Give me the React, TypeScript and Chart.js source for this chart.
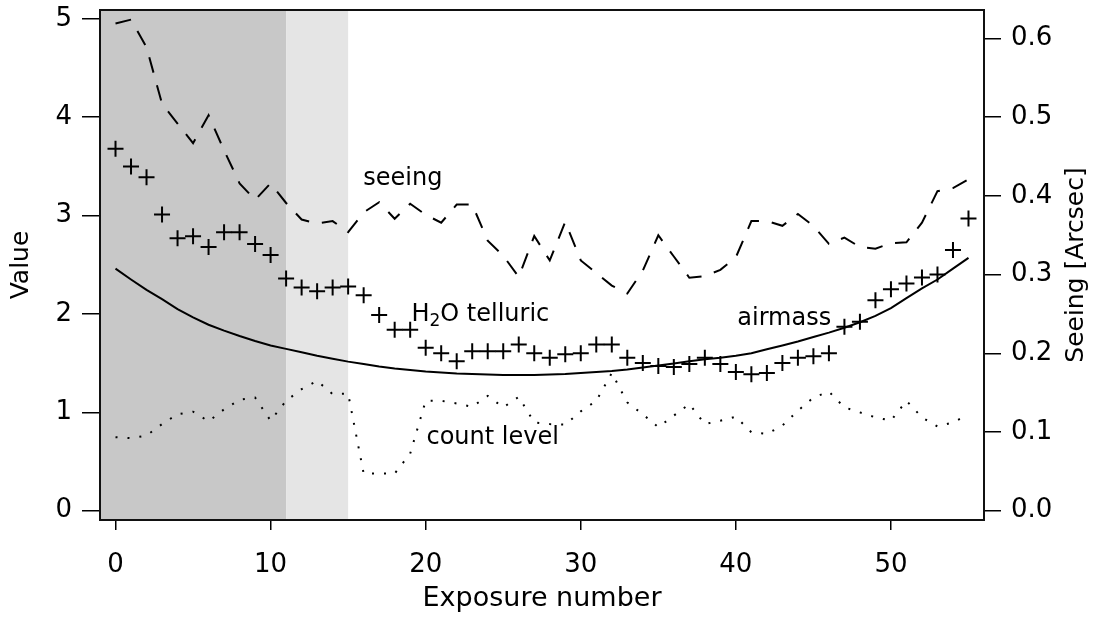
import React, { useEffect, useRef } from 'react';
import { Chart, registerables } from 'chart.js';

Chart.register(...registerables);

// ---------- data ----------
const exposures = [
  0, 1, 2, 3, 4, 5, 6, 7, 8, 9, 10, 11, 12, 13, 14, 15, 16, 17, 18, 19,
  20, 21, 22, 23, 24, 25, 26, 27, 28, 29, 30, 31, 32, 33, 34, 35, 36, 37, 38, 39,
  40, 41, 42, 43, 44, 45, 46, 47, 48, 49, 50, 51, 52, 53, 54, 55,
];

const h2oTelluric = [
  3.68, 3.5, 3.39, 3.01, 2.77, 2.79, 2.68, 2.83, 2.83, 2.71, 2.6, 2.36, 2.27, 2.23, 2.27, 2.28,
  2.19, 1.99, 1.84, 1.84, 1.655, 1.6, 1.52, 1.62, 1.62, 1.62, 1.69, 1.6, 1.555, 1.59, 1.6, 1.69,
  1.69, 1.555, 1.5, 1.47, 1.46, 1.49, 1.555, 1.49, 1.41, 1.386, 1.4, 1.5, 1.555, 1.57, 1.6, 1.87,
  1.92, 2.14, 2.25, 2.31, 2.37, 2.4, 2.65, 2.97,
];

const airmass = [
  2.46, 2.35, 2.245, 2.15, 2.05, 1.965, 1.89, 1.83, 1.775, 1.725,
  1.68, 1.645, 1.61, 1.575, 1.545, 1.515, 1.49, 1.465, 1.445, 1.43,
  1.415, 1.405, 1.395, 1.39, 1.385, 1.38, 1.38, 1.38, 1.385, 1.39,
  1.4, 1.41, 1.42, 1.435, 1.455, 1.475, 1.495, 1.52, 1.54, 1.555,
  1.575, 1.6, 1.64, 1.68, 1.72, 1.765, 1.81, 1.86, 1.915, 1.98,
  2.06, 2.16, 2.26, 2.35, 2.46, 2.57,
];

// seeing in arcsec (right axis)
const seeing = [
  0.619, 0.624, 0.589, 0.517, 0.492, 0.467, 0.5025, 0.458, 0.416, 0.395,
  0.416, 0.391, 0.37, 0.365, 0.368, 0.354, 0.379, 0.392, 0.371, 0.39,
  0.376, 0.366, 0.389, 0.389, 0.343, 0.324, 0.297, 0.349, 0.318, 0.367,
  0.318, 0.302, 0.286, 0.276, 0.305, 0.35, 0.323, 0.296, 0.298, 0.306,
  0.322, 0.368, 0.368, 0.362, 0.377, 0.362, 0.339, 0.347, 0.335, 0.333,
  0.34, 0.341, 0.366, 0.406, 0.41, 0.421,
];

const countLevel = [
  0.747, 0.737, 0.764, 0.88, 0.98, 1.006, 0.908, 1.03, 1.127, 1.15,
  0.915, 1.117, 1.235, 1.319, 1.185, 1.19, 0.377, 0.377, 0.377, 0.58,
  1.117, 1.117, 1.09, 1.056, 1.167, 1.05, 1.157, 0.898, 0.88, 0.875,
  1.01, 1.117, 1.4, 1.1, 0.98, 0.848, 0.966, 1.084, 0.88, 0.915,
  0.955, 0.797, 0.78, 0.865, 1.016, 1.15, 1.21, 1.05, 0.999, 0.949,
  0.915, 1.117, 0.949, 0.855, 0.898, 0.976,
];

const xTicks = [0, 10, 20, 30, 40, 50];
const yTicks = [0, 1, 2, 3, 4, 5];
const seeingTicks = [0.0, 0.1, 0.2, 0.3, 0.4, 0.5, 0.6];

const xMin = -1;
const xMax = 56;
const yMin = -0.095;
const yMax = 5.09;
const seeingPerValue = 0.125; // right axis = left axis / 8

// shaded exposure ranges
const shadeFrom = [-1, 11];
const shadeTo = [11, 15];
const shadeColors = ['#c8c8c8', '#e5e5e5'];

// in-plot labels (odd parts are subscripts)
const noteParts = [['seeing'], ['H', '2', 'O telluric'], ['airmass'], ['count level']];
const noteX = [15.98, 19.08, 40.09, 20.05];
const noteY = [3.307, 1.925, 1.891, 0.673];

const FONT = "'DejaVu Sans', sans-serif";

const overlayPlugin = {
  id: 'overlay',
  beforeDatasetsDraw(chart: any) {
    const { ctx, chartArea, scales } = chart;
    const x = scales.x;
    ctx.save();
    shadeFrom.forEach((f, k) => {
      const x0 = Math.max(x.getPixelForValue(f), chartArea.left);
      const x1 = Math.min(x.getPixelForValue(shadeTo[k]), chartArea.right);
      ctx.fillStyle = shadeColors[k];
      ctx.fillRect(x0, chartArea.top, x1 - x0, chartArea.bottom - chartArea.top);
    });
    ctx.restore();
  },
  afterDraw(chart: any) {
    const { ctx, chartArea, scales } = chart;
    ctx.save();
    // frame
    ctx.strokeStyle = '#111';
    ctx.lineWidth = 2;
    ctx.strokeRect(chartArea.left, chartArea.top, chartArea.right - chartArea.left, chartArea.bottom - chartArea.top);

    // annotations
    ctx.fillStyle = '#000';
    ctx.textBaseline = 'alphabetic';
    ctx.textAlign = 'left';
    noteParts.forEach((parts, k) => {
      let px = scales.x.getPixelForValue(noteX[k]);
      const py = scales.y.getPixelForValue(noteY[k]);
      parts.forEach((p, j) => {
        const sub = j % 2 === 1;
        ctx.font = sub ? `17px ${FONT}` : `24px ${FONT}`;
        ctx.fillText(p, px, sub ? py + 5 : py);
        px += ctx.measureText(p).width;
      });
    });

    // right axis title (reads bottom to top)
    ctx.font = `25px ${FONT}`;
    ctx.textAlign = 'center';
    ctx.textBaseline = 'middle';
    ctx.translate(1076, (chartArea.top + chartArea.bottom) / 2);
    ctx.rotate(-Math.PI / 2);
    ctx.fillText('Seeing [Arcsec]', 0, 0);
    ctx.restore();
  },
};

export default function App() {
  const canvasRef = useRef<HTMLCanvasElement | null>(null);

  useEffect(() => {
    document.body.style.margin = '0';
    const canvas = canvasRef.current;
    if (!canvas) return;

    const pts = (arr: number[]) => exposures.map((e, i) => ({ x: e, y: arr[i] }));

    const gridCommon = {
      drawOnChartArea: false,
      drawTicks: true,
      color: '#000',
      lineWidth: 1.5,
    };

    const chart = new Chart(canvas, {
      type: 'scatter',
      data: {
        datasets: [
          {
            label: 'H2O telluric',
            data: pts(h2oTelluric),
            showLine: false,
            pointStyle: 'cross',
            pointRadius: 8,
            pointBorderWidth: 2,
            borderColor: '#000',
            backgroundColor: '#000',
            yAxisID: 'y',
          },
          {
            label: 'airmass',
            data: pts(airmass),
            showLine: true,
            pointRadius: 0,
            borderWidth: 2,
            borderColor: '#000',
            tension: 0,
            yAxisID: 'y',
          },
          {
            label: 'seeing',
            data: pts(seeing),
            showLine: true,
            pointRadius: 0,
            borderWidth: 2,
            borderColor: '#000',
            borderDash: [16, 13],
            tension: 0,
            yAxisID: 'y2',
          },
          {
            label: 'count level',
            data: pts(countLevel),
            showLine: true,
            pointRadius: 0,
            borderWidth: 2,
            borderColor: '#000',
            borderDash: [2, 10],
            tension: 0,
            yAxisID: 'y',
          },
        ],
      },
      options: {
        responsive: false,
        animation: false,
        events: [],
        layout: { padding: { top: 6, left: 0, right: 0, bottom: 0 } },
        plugins: {
          legend: { display: false },
          tooltip: { enabled: false },
        },
        scales: {
          x: {
            type: 'linear',
            position: 'bottom',
            min: xMin,
            max: xMax,
            afterBuildTicks: (axis: any) => {
              axis.ticks = xTicks.map((v) => ({ value: v }));
            },
            afterFit: (axis: any) => {
              axis.height = 97;
              axis.paddingLeft = 0;
              axis.paddingRight = 0;
            },
            grid: { ...gridCommon, tickLength: 10 },
            border: { display: false },
            ticks: {
              autoSkip: false,
              maxRotation: 0,
              padding: 20,
              color: '#000',
              font: { family: FONT, size: 26 },
            },
            title: {
              display: true,
              text: 'Exposure number',
              color: '#000',
              font: { family: FONT, size: 27 },
              padding: { top: 0, bottom: 2 },
            },
          },
          y: {
            type: 'linear',
            position: 'left',
            min: yMin,
            max: yMax,
            afterBuildTicks: (axis: any) => {
              axis.ticks = yTicks.map((v) => ({ value: v }));
            },
            afterFit: (axis: any) => {
              axis.width = 100;
              axis.paddingTop = 0;
              axis.paddingBottom = 0;
            },
            grid: { ...gridCommon, tickLength: 18 },
            border: { display: false },
            ticks: {
              autoSkip: false,
              padding: 10,
              color: '#000',
              font: { family: FONT, size: 26 },
            },
            title: {
              display: true,
              text: 'Value',
              color: '#000',
              font: { family: FONT, size: 25 },
              padding: { top: 6, bottom: 0 },
            },
          },
          y2: {
            type: 'linear',
            position: 'right',
            min: yMin * seeingPerValue,
            max: yMax * seeingPerValue,
            afterBuildTicks: (axis: any) => {
              axis.ticks = seeingTicks.map((v) => ({ value: v }));
            },
            afterFit: (axis: any) => {
              axis.width = 115;
              axis.paddingTop = 0;
              axis.paddingBottom = 0;
            },
            grid: { ...gridCommon, tickLength: 17 },
            border: { display: false },
            ticks: {
              autoSkip: false,
              padding: 10,
              color: '#000',
              font: { family: FONT, size: 26 },
              callback: (v: any) => Number(v).toFixed(1),
            },
          },
        },
      },
      plugins: [overlayPlugin],
    } as any);

    return () => chart.destroy();
  }, []);

  return (
    <div style={{ width: 1099, height: 617 }}>
      <canvas ref={canvasRef} width={1099} height={617} style={{ display: 'block' }} />
    </div>
  );
}
